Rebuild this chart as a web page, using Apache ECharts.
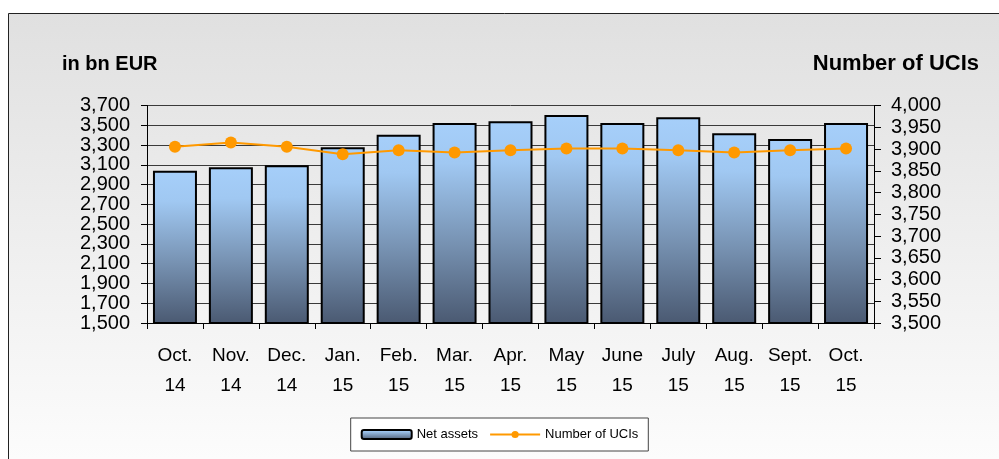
<!DOCTYPE html>
<html>
<head>
<meta charset="utf-8">
<script src="https://cdn.jsdelivr.net/npm/echarts@6/dist/echarts.min.js"></script>
<style>
  html, body { margin: 0; padding: 0; background: #fff; }
  #chart { width: 999px; height: 459px; }
</style>
</head>
<body>
<div id="chart"></div>
<script>
// months (two-line labels)
const months = ['Oct.\n14', 'Nov.\n14', 'Dec.\n14', 'Jan.\n15', 'Feb.\n15', 'Mar.\n15', 'Apr.\n15',
  'May\n15', 'June\n15', 'July\n15', 'Aug.\n15', 'Sept.\n15', 'Oct.\n15']
// net assets, bn EUR (left axis)
const netAssets = [3040, 3076, 3096, 3277, 3403, 3524, 3540, 3605, 3524, 3581, 3419, 3362, 3524]
// number of UCIs (right axis)
const nbUcis = [3905, 3915, 3905, 3888, 3897, 3892, 3897, 3901, 3901, 3897, 3892, 3897, 3901]
// left axis tick labels, split in two sets because they sit very close together
const leftTicksA = [1500, 1900, 2300, 2700, 3100, 3500]
const leftTicksB = [1700, 2100, 2500, 2900, 3300, 3700]

const fmt = v => v.toLocaleString('en-US')
const font = 'Liberation Sans, Arial, sans-serif'

const chart = echarts.init(document.getElementById('chart'))
chart.setOption({
  backgroundColor: '#fff',
  animation: false,
  textStyle: { fontFamily: font },
  graphic: [
    {
      type: 'rect',
      z: -100,
      shape: { x: 8.5, y: 13.5, width: 1000, height: 460 },
      style: {
        fill: new echarts.graphic.LinearGradient(0, 0, 0, 1, [
          { offset: 0, color: '#e0e0e0' },
          { offset: 1, color: '#fdfdfd' }
        ]),
        stroke: '#222',
        lineWidth: 1
      }
    },
    {
      type: 'text',
      left: 62,
      top: 54,
      style: { text: 'in bn EUR', font: 'bold 20px ' + font, fill: '#000' }
    },
    {
      type: 'text',
      right: 20,
      top: 53,
      style: { text: 'Number of UCIs', font: 'bold 22px ' + font, fill: '#000' }
    }
  ],
  grid: { left: 147, right: 125, top: 105.5, bottom: 136 },
  legend: {
    bottom: 8,
    left: 'center',
    backgroundColor: '#fff',
    borderColor: '#444',
    borderWidth: 1,
    padding: [10, 10],
    itemWidth: 50,
    itemHeight: 9,
    itemGap: 11,
    textStyle: { fontSize: 13, color: '#000' },
    data: ['Net assets', 'Number of UCIs']
  },
  xAxis: {
    type: 'category',
    data: months,
    axisLine: { lineStyle: { color: '#000', width: 1 } },
    axisTick: { show: true, length: 6, lineStyle: { color: '#000' } },
    axisLabel: { color: '#000', fontSize: 19, lineHeight: 30, margin: 18, interval: 0 }
  },
  yAxis: [
    {
      type: 'value',
      position: 'left',
      min: 1500,
      max: 3700,
      interval: 200,
      axisLine: { show: true, lineStyle: { color: '#000' } },
      axisTick: { show: true, length: 6, lineStyle: { color: '#000' } },
      axisLabel: { color: '#000', fontSize: 20, margin: 17, formatter: fmt, customValues: leftTicksA },
      splitLine: { show: true, lineStyle: { color: '#3a3a3a', width: 1 } }
    },
    {
      type: 'value',
      position: 'left',
      min: 1500,
      max: 3700,
      interval: 200,
      axisLine: { show: false },
      axisTick: { show: false },
      axisLabel: { color: '#000', fontSize: 20, margin: 17, formatter: fmt, customValues: leftTicksB },
      splitLine: { show: false }
    },
    {
      type: 'value',
      position: 'right',
      min: 3500,
      max: 4000,
      interval: 50,
      axisLine: { show: true, lineStyle: { color: '#000' } },
      axisTick: { show: true, length: 7, lineStyle: { color: '#000' } },
      axisLabel: { color: '#000', fontSize: 20, margin: 17, formatter: fmt },
      splitLine: { show: false }
    }
  ],
  series: [
    {
      name: 'Net assets',
      type: 'bar',
      data: netAssets,
      barWidth: 44,
      itemStyle: {
        color: new echarts.graphic.LinearGradient(0, 0, 0, 1, [
          { offset: 0, color: '#a6cffa' },
          { offset: 0.2, color: '#a0c8f2' },
          { offset: 0.6, color: '#7792b2' },
          { offset: 1, color: '#4a5971' }
        ]),
        borderColor: '#000',
        borderWidth: 2
      }
    },
    {
      name: 'Number of UCIs',
      type: 'line',
      yAxisIndex: 2,
      data: nbUcis,
      symbol: 'circle',
      symbolSize: 12,
      lineStyle: { color: '#ff9900', width: 2 },
      itemStyle: { color: '#ff9900' },
      z: 5
    }
  ]
})
</script>
</body>
</html>
